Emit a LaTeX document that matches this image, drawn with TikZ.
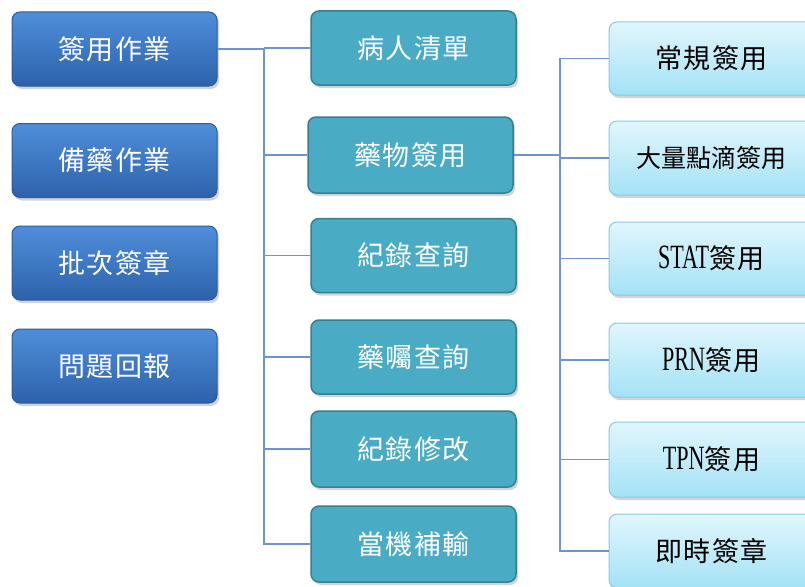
\documentclass[tikz,border=0pt]{standalone}
\usepackage{fontspec}
\setmainfont{Liberation Serif}
\newfontfamily\cjk[LetterSpace=6]{Noto Sans CJK TC}
\newfontfamily\cjknarrow{Noto Sans CJK TC}
\newfontfamily\latn[FakeStretch=0.65]{Liberation Serif}
\usetikzlibrary{shadows}
\definecolor{ltop}{HTML}{4F8EDB}
\definecolor{lbot}{HTML}{2D62AA}
\definecolor{lbord}{HTML}{2B5B9B}
\definecolor{mfill}{HTML}{4AABC5}
\definecolor{mbord}{HTML}{367F94}
\definecolor{rtop}{HTML}{E1F6FD}
\definecolor{rbot}{HTML}{A3E2F6}
\definecolor{rbord}{HTML}{86CDE0}
\definecolor{conncol}{HTML}{6F93CB}
\tikzset{
  box/.style={rounded corners=8pt, minimum width=205pt, minimum height=74pt, inner sep=0pt,
    drop shadow={opacity=0.35, shadow xshift=2pt, shadow yshift=-3pt},
    font=\fontsize{27}{30}\selectfont\cjk},
  lbox/.style={box, draw=lbord, line width=1pt, top color=ltop, bottom color=lbot, text=white},
  mbox/.style={box, draw=mbord, line width=1.5pt, fill=mfill, text=white},
  rbox/.style={box, draw=rbord, line width=1pt, top color=rtop, bottom color=rbot, text=black},
  conn/.style={draw=conncol, line width=1.2pt}
}
\newcommand{\lat}[1]{{\latn\fontsize{34}{36}\selectfont #1}}
\begin{document}
\begin{tikzpicture}[x=1pt,y=-1pt]
\useasboundingbox (0,0) rectangle (805,586);
\clip (0,0) rectangle (805,586);
% left column
\node[lbox] (L1) at (114.5,49) {簽用作業};
\node[lbox] (L2) at (114.5,160.5) {備藥作業};
\node[lbox] (L3) at (114.5,263) {批次簽章};
\node[lbox] (L4) at (114.5,366) {問題回報};
% middle column
\node[mbox] (M1) at (413.5,48) {病人清單};
\node[mbox, minimum height=76pt] (M2) at (410.5,155) {藥物簽用};
\node[mbox] (M3) at (413.5,255.5) {紀錄查詢};
\node[mbox] (M4) at (413.5,357) {藥囑查詢};
\node[mbox, minimum height=76pt] (M5) at (413.5,449) {紀錄修改};
\node[mbox, minimum height=76pt] (M6) at (413.5,544) {當機補輸};
% right column
\node[rbox, minimum height=73pt] (R1) at (711.5,58.5) {常規簽用};
\node[rbox] (R2) at (711.5,158) {\cjknarrow\fontsize{25}{28}\selectfont 大量點滴簽用};
\node[rbox, minimum height=73pt] (R3) at (711.5,258.5) {\lat{STAT}簽用};
\node[rbox] (R4) at (711.5,360) {\lat{PRN}簽用};
\node[rbox, minimum height=75pt] (R5) at (711.5,459.5) {\lat{TPN}簽用};
\node[rbox] (R6) at (711.5,551) {即時簽章};
% connectors
\coordinate (sp1) at (264,0);
\coordinate (sp2) at (560,0);
\draw[conn] (L1.east) -- (L1.east -| sp1) |- (M6.west);
\foreach \m in {M1,M2,M3,M4,M5}
  \draw[conn] (\m.west -| sp1) -- (\m.west);
\draw[conn] (M2.east) -- (M2.east -| sp2);
\draw[conn] (R1.west -| sp2) |- (R6.west);
\foreach \r in {R1,R2,R3,R4,R5}
  \draw[conn] (\r.west -| sp2) -- (\r.west);
\end{tikzpicture}
\end{document}
